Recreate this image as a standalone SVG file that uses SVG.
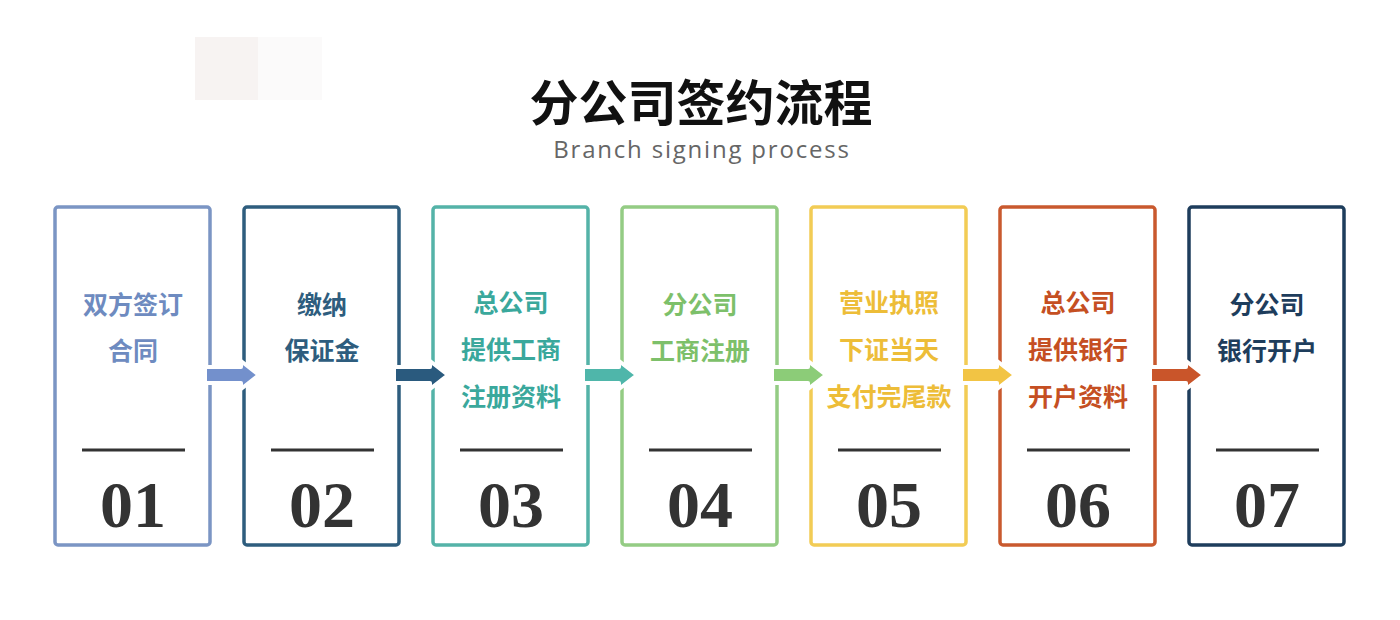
<svg xmlns="http://www.w3.org/2000/svg" width="1400" height="620" viewBox="0 0 1400 620">
<style>
.box{fill:#fff;stroke-width:3.5}
.t{font-family:"Noto Sans CJK SC",sans-serif;font-size:25px;font-weight:bold;text-anchor:middle}
.n{font-family:"Liberation Serif",serif;font-size:66px;font-weight:bold;fill:#333;text-anchor:middle}
.ln{stroke:#333;stroke-width:3}
</style>
<rect width="1400" height="620" fill="#fff"/>
<rect x="195" y="37" width="63" height="63" fill="#f7f3f2"/>
<rect x="258" y="37" width="64" height="63" fill="#fbfafa"/>
<text x="701" y="121" font-family="Noto Sans CJK SC,sans-serif" font-size="49" font-weight="bold" fill="#111" text-anchor="middle">分公司签约流程</text>
<text x="702" y="158" font-family="Open Sans,sans-serif" font-size="24" fill="#666" text-anchor="middle" letter-spacing="1.8">Branch signing process</text>
<g id="n1"><rect class="box" x="55" y="207" width="155" height="338" rx="3" stroke="#7b95c4"/>
<text class="t" fill="#6e8bc0"><tspan x="133" y="314">双方签订</tspan><tspan x="133" y="360">合同</tspan></text>
<line class="ln" x1="82" y1="450" x2="185" y2="450"/><text class="n" x="133" y="527">01</text></g>
<g id="n2"><rect class="box" x="244" y="207" width="155" height="338" rx="3" stroke="#2e5d7e"/>
<text class="t" fill="#2e5d7e"><tspan x="322" y="314">缴纳</tspan><tspan x="322" y="360">保证金</tspan></text>
<line class="ln" x1="271" y1="450" x2="374" y2="450"/><text class="n" x="322" y="527">02</text></g>
<g id="n3"><rect class="box" x="433" y="207" width="155" height="338" rx="3" stroke="#54b3a8"/>
<text class="t" fill="#3aa89c"><tspan x="511" y="312">总公司</tspan><tspan x="511" y="359">提供工商</tspan><tspan x="511" y="406">注册资料</tspan></text>
<line class="ln" x1="460" y1="450" x2="563" y2="450"/><text class="n" x="511" y="527">03</text></g>
<g id="n4"><rect class="box" x="622" y="207" width="155" height="338" rx="3" stroke="#94cc84"/>
<text class="t" fill="#7dc06a"><tspan x="700" y="314">分公司</tspan><tspan x="700" y="360">工商注册</tspan></text>
<line class="ln" x1="649" y1="450" x2="752" y2="450"/><text class="n" x="700" y="527">04</text></g>
<g id="n5"><rect class="box" x="811" y="207" width="155" height="338" rx="3" stroke="#f2cc55"/>
<text class="t" fill="#edbd38"><tspan x="889" y="312">营业执照</tspan><tspan x="889" y="359">下证当天</tspan><tspan x="889" y="406">支付完尾款</tspan></text>
<line class="ln" x1="838" y1="450" x2="941" y2="450"/><text class="n" x="889" y="527">05</text></g>
<g id="n6"><rect class="box" x="1000" y="207" width="155" height="338" rx="3" stroke="#c9592e"/>
<text class="t" fill="#c54f22"><tspan x="1078" y="312">总公司</tspan><tspan x="1078" y="359">提供银行</tspan><tspan x="1078" y="406">开户资料</tspan></text>
<line class="ln" x1="1027" y1="450" x2="1130" y2="450"/><text class="n" x="1078" y="527">06</text></g>
<g id="n7"><rect class="box" x="1189" y="207" width="155" height="338" rx="3" stroke="#1e3d5c"/>
<text class="t" fill="#1e3d5c"><tspan x="1267" y="314">分公司</tspan><tspan x="1267" y="360">银行开户</tspan></text>
<line class="ln" x1="1216" y1="450" x2="1319" y2="450"/><text class="n" x="1267" y="527">07</text></g>
<g id="connectors" stroke="#fff" stroke-width="4" stroke-linejoin="round">
<polygon points="205,367 241,367 241,361 259,375 241,389 241,383 205,383" fill="#7390cc"/>
<polygon points="394,367 430,367 430,361 448,375 430,389 430,383 394,383" fill="#2a5a7e"/>
<polygon points="583,367 619,367 619,361 637,375 619,389 619,383 583,383" fill="#4fb6aa"/>
<polygon points="772,367 808,367 808,361 826,375 808,389 808,383 772,383" fill="#8ccc78"/>
<polygon points="961,367 997,367 997,361 1015,375 997,389 997,383 961,383" fill="#f2c444"/>
<polygon points="1150,367 1186,367 1186,361 1204,375 1186,389 1186,383 1150,383" fill="#c9552a"/>
</g>
</svg>
